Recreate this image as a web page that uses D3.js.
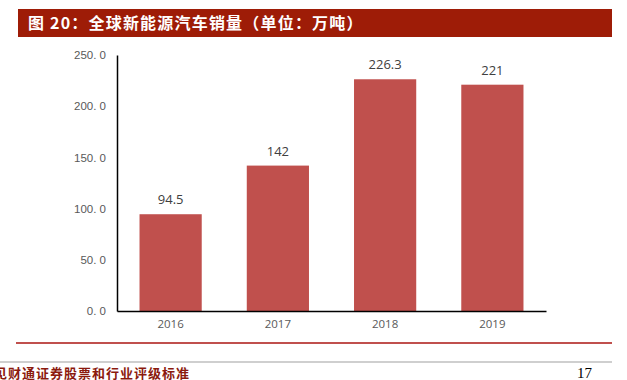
<!DOCTYPE html>
<html>
<head>
<meta charset="utf-8">
<script src="https://cdn.jsdelivr.net/npm/d3@7"></script>
<style>
  body { margin: 0; background: #fff; }
  svg { display: block; }
</style>
</head>
<body>
<div id="chart"></div>
<script>
// chart data
var years = ["2016", "2017", "2018", "2019"];
var sales = [94.5, 142, 226.3, 221];
var valueLabels = ["94.5", "142", "226.3", "221"];
var yTicks = [0, 50, 100, 150, 200, 250];

var svgWidth = 627;
var svgHeight = 380;

var margin = { top: 55, right: 81, bottom: 69, left: 117 };
var chartWidth = svgWidth - margin.left - margin.right;
var chartHeight = svgHeight - margin.top - margin.bottom;

var svg = d3.select("#chart")
  .append("svg")
  .attr("width", svgWidth)
  .attr("height", svgHeight);

// title bar
svg.append("rect")
  .attr("x", 18).attr("y", 9)
  .attr("width", 594).attr("height", 28)
  .attr("fill", "#9e1c07");

svg.append("text")
  .attr("x", 28).attr("y", 29)
  .attr("fill", "#fff")
  .attr("font-family", "Noto Sans CJK SC")
  .attr("font-weight", "bold")
  .attr("font-size", 16)
  .attr("letter-spacing", 1.2)
  .text("图 20：全球新能源汽车销量（单位：万吨）");

var chartGroup = svg.append("g")
  .attr("transform", `translate(${margin.left}, ${margin.top})`);

var xScale = d3.scaleBand()
  .domain(years)
  .range([0, chartWidth])
  .paddingInner(0.42)
  .paddingOuter(0.21);

var yScale = d3.scaleLinear()
  .domain([0, 250])
  .range([chartHeight, 0]);

// y axis
var yAxis = d3.axisLeft(yScale)
  .tickValues(yTicks)
  .tickSize(0)
  .tickPadding(11)
  .tickFormat(d => d3.format(".1f")(d).replace(".", ". "));

var yG = chartGroup.append("g").call(yAxis);
yG.select(".domain").attr("stroke", "#000").attr("stroke-width", 1.5);
yG.selectAll("text")
  .attr("fill", "#595959")
  .attr("font-family", "Liberation Sans")
  .attr("font-size", 11.5);

// bars
chartGroup.selectAll(".bar")
  .data(sales)
  .enter()
  .append("rect")
  .attr("class", "bar")
  .attr("x", (d, i) => xScale(years[i]))
  .attr("y", d => yScale(d))
  .attr("width", xScale.bandwidth())
  .attr("height", d => chartHeight - yScale(d))
  .attr("fill", "#c0504d");

// value labels
chartGroup.selectAll(".val")
  .data(sales)
  .enter()
  .append("text")
  .attr("class", "val")
  .attr("text-anchor", "middle")
  .attr("x", (d, i) => xScale(years[i]) + xScale.bandwidth() / 2)
  .attr("y", d => yScale(d) - 10)
  .attr("fill", "#404040")
  .attr("font-family", "Open Sans")
  .attr("font-size", 13)
  .text((d, i) => valueLabels[i]);

// x axis
var xAxis = d3.axisBottom(xScale).tickSize(0).tickPadding(9);
var xG = chartGroup.append("g")
  .attr("transform", `translate(0, ${chartHeight})`)
  .call(xAxis);
xG.select(".domain").attr("stroke", "#000").attr("stroke-width", 1.5);
xG.selectAll("text")
  .attr("fill", "#595959")
  .attr("font-family", "Open Sans")
  .attr("font-size", 11.5);

// footer lines
svg.append("line")
  .attr("x1", 16).attr("x2", 612)
  .attr("y1", 343).attr("y2", 343)
  .attr("stroke", "#c0504d").attr("stroke-width", 2);

svg.append("line")
  .attr("x1", 0).attr("x2", 612)
  .attr("y1", 362).attr("y2", 362)
  .attr("stroke", "#bfbfbf").attr("stroke-width", 1.5);

svg.append("text")
  .attr("x", -6).attr("y", 378)
  .attr("fill", "#8b1a0e")
  .attr("font-family", "Noto Sans CJK SC")
  .attr("font-weight", "bold")
  .attr("font-size", 13)
  .attr("letter-spacing", 1)
  .text("见财通证券股票和行业评级标准");

svg.append("text")
  .attr("x", 577).attr("y", 378)
  .attr("fill", "#000")
  .attr("font-family", "Liberation Serif")
  .attr("font-size", 15)
  .text("17");
</script>
</body>
</html>
